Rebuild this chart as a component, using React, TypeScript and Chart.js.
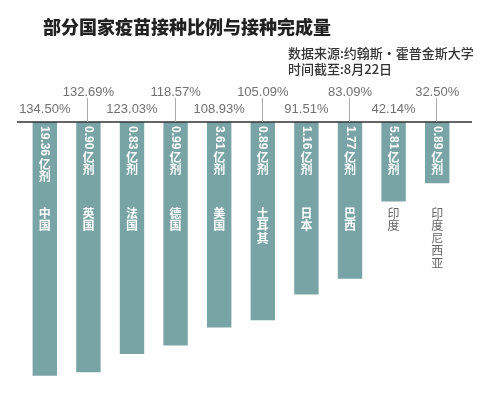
import React, { useEffect, useRef } from "react";
import { Chart, registerables } from "chart.js";

Chart.register(...registerables);

const countries = ["中国", "英国", "法国", "德国", "美国", "土耳其", "日本", "巴西", "印度", "印度尼西亚"];
const ratios = [134.5, 132.69, 123.03, 118.57, 108.93, 105.09, 91.51, 83.09, 42.14, 32.5];
const ratioLabels = ["134.50%", "132.69%", "123.03%", "118.57%", "108.93%", "105.09%", "91.51%", "83.09%", "42.14%", "32.50%"];
const doses = ["19.36", "0.90", "0.83", "0.99", "3.61", "0.89", "1.16", "1.77", "5.81", "0.89"];
const doseUnit = "亿剂";
const title = "部分国家疫苗接种比例与接种完成量";
const source1 = "数据来源:约翰斯·霍普金斯大学";
const source2 = "时间截至:8月22日";

const BAR = "#78a4a6";
const CJK = '"Noto Sans CJK SC", "Noto Sans", sans-serif';
const LAT = '"Liberation Sans", Arial, sans-serif';

const textPlugin = {
  id: "textPlugin",
  afterDatasetsDraw(chart: any) {
    const ctx = chart.ctx as CanvasRenderingContext2D;
    const area = chart.chartArea;
    const ys = chart.scales.y;
    const meta = chart.getDatasetMeta(0);
    const base = ys.getPixelForValue(0);
    ctx.save();
    // title
    ctx.fillStyle = "#222";
    ctx.font = `900 18px ${CJK}`;
    ctx.textBaseline = "middle";
    ctx.textAlign = "left";
    ctx.fillText(title, 43, 27);
    ctx.fillStyle = "#333";
    ctx.font = `500 13px ${CJK}`;
    ctx.fillText(source1, 288, 53);
    ctx.fillText(source2, 288, 69);

    // baseline
    ctx.strokeStyle = "#333";
    ctx.lineWidth = 1.5;
    ctx.beginPath();
    ctx.moveTo(area.left - 6, base);
    ctx.lineTo(area.right + 13, base);
    ctx.stroke();

    meta.data.forEach((bar: any, i: number) => {
      const x = bar.x;
      const bottom = bar.y;
      // percent labels
      const upper = i % 2 === 1;
      ctx.font = `13px ${LAT}`;
      ctx.fillStyle = "#707070";
      ctx.textAlign = "center";
      ctx.textBaseline = "middle";
      ctx.fillText(ratioLabels[i], x, upper ? base - 30 : base - 13);
      if (upper) {
        ctx.strokeStyle = "#aaa";
        ctx.lineWidth = 1;
        ctx.beginPath();
        ctx.moveTo(Math.round(x) - 0.5, base - 24);
        ctx.lineTo(Math.round(x) - 0.5, base);
        ctx.stroke();
      }
      // dose number rotated
      ctx.fillStyle = "#fff";
      ctx.save();
      ctx.translate(x, base + 4);
      ctx.rotate(Math.PI / 2);
      ctx.font = `bold 12px ${LAT}`;
      ctx.textAlign = "left";
      ctx.textBaseline = "middle";
      ctx.fillText(doses[i], 0, 0);
      const w = ctx.measureText(doses[i]).width;
      ctx.restore();
      ctx.font = `bold 12px ${CJK}`;
      ctx.textAlign = "center";
      ctx.textBaseline = "middle";
      let cy = base + 4 + w + 8;
      for (const ch of doseUnit) {
        ctx.fillText(ch, x, cy);
        cy += 12.5;
      }
      // country name
      const name = countries[i];
      const ny0 = base + 91;
      const nameBottom = ny0 + (name.length - 1) * 12.5 + 7;
      ctx.fillStyle = bottom > nameBottom ? "#fff" : "#666";
      ctx.font = `${bottom > nameBottom ? "bold" : "normal"} 12px ${CJK}`;
      let ny = ny0;
      for (const ch of name) {
        ctx.fillText(ch, x, ny);
        ny += 12.5;
      }
    });
    ctx.restore();
  },
};

export default function App() {
  const ref = useRef<HTMLCanvasElement | null>(null);
  useEffect(() => {
    if (!ref.current) return;
    const chart = new Chart(ref.current, {
      type: "bar",
      data: {
        labels: countries,
        datasets: [
          {
            data: ratios,
            backgroundColor: BAR,
            borderWidth: 0,
            barPercentage: 0.56,
            categoryPercentage: 1,
          },
        ],
      },
      options: {
        responsive: false,
        animation: false,
        devicePixelRatio: 1,
        layout: { padding: { top: 122, bottom: 8, left: 23, right: 32 } },
        plugins: { legend: { display: false }, tooltip: { enabled: false }, title: { display: false } },
        scales: {
          x: { display: false, grid: { display: false } },
          y: { display: false, reverse: true, min: 0, max: 140, grid: { display: false } },
        },
      },
      plugins: [textPlugin],
    });
    return () => chart.destroy();
  }, []);
  return (
    <div style={{ position: "fixed", left: 0, top: 0, width: 491, height: 394, background: "#fff" }}>
      <canvas ref={ref} width={491} height={394} />
    </div>
  );
}
